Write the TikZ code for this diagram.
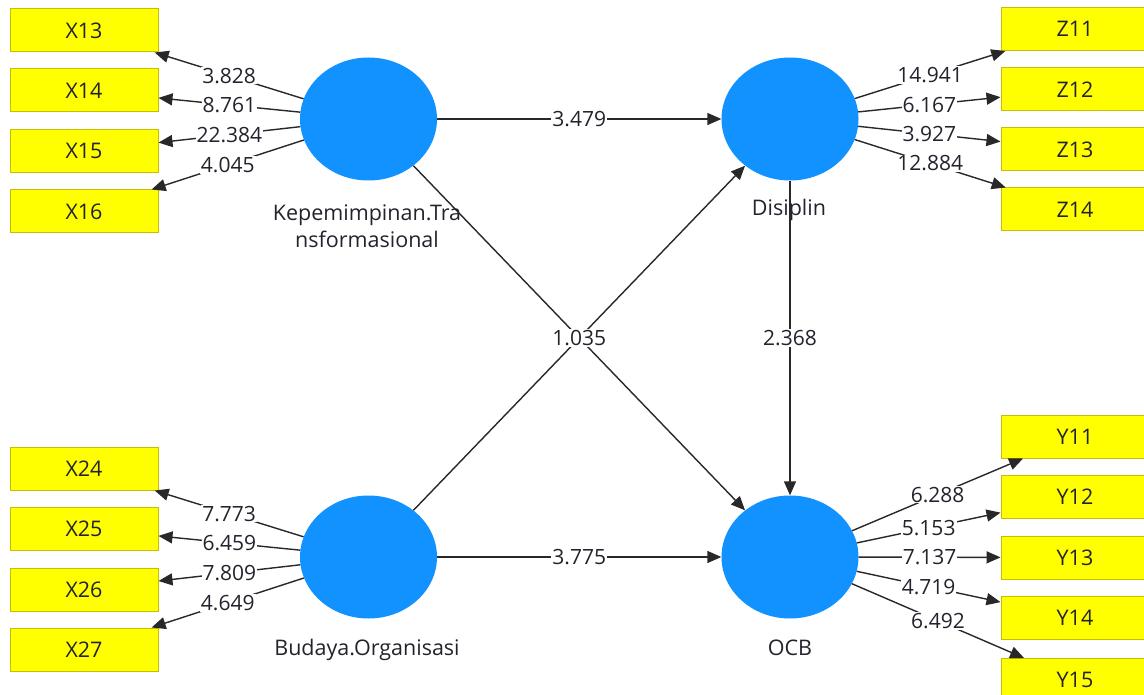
\documentclass[tikz,border=0pt]{standalone}
\usepackage{fontspec}
\setmainfont{Open Sans}
\usetikzlibrary{shapes.geometric,arrows.meta}
\definecolor{boxyellow}{RGB}{255,255,0}
\definecolor{boxborder}{RGB}{200,190,0}
\definecolor{latblue}{RGB}{17,146,255}
\definecolor{linegray}{RGB}{40,40,40}
\definecolor{txt}{RGB}{35,35,45}
\newcommand{\numfont}{\fontsize{21}{27}\selectfont}
\newcommand{\wordfont}{\fontsize{21.5}{27}\selectfont}
\begin{document}
\begin{tikzpicture}[x=1pt,y=-1pt,
  ind/.style={draw=boxborder, line width=1pt, fill=boxyellow, minimum width=148pt, minimum height=43pt, inner sep=0pt, font=\wordfont, text=txt},
  lat/.style={ellipse, fill=latblue, minimum width=137pt, minimum height=123pt, inner sep=0pt},
  conn/.style={draw=linegray, line width=1.4pt, -{Triangle[length=14pt,width=12pt]}},
  val/.style={fill=white, inner sep=1pt, font=\numfont, text=txt},
  latlab/.style={font=\wordfont, text=txt, align=center, inner sep=0pt}]
\clip (0,0) rectangle (1144,695);
\fill[white] (0,0) rectangle (1144,695);
% latent variables
\node[lat] (kep) at (368.5,119) {};
\node[lat] (dis) at (790,119) {};
\node[lat] (bud) at (368.5,557) {};
\node[lat] (ocb) at (790,557) {};
\node[latlab] (kepl) at (367,226) {Kepemimpinan.Tra\\nsformasional};
\node[latlab] (disl) at (789,210) {Disiplin};
\node[latlab] (budl) at (367,650) {Budaya.Organisasi};
\node[latlab] (ocbl) at (790,648) {OCB};
% indicators
\node[ind] (x13) at (84,30.5) {X13};
\node[ind] (x14) at (84,90.5) {X14};
\node[ind] (x15) at (84,151) {X15};
\node[ind] (x16) at (84,211.5) {X16};
\node[ind] (z11) at (1075,29) {Z11};
\node[ind] (z12) at (1075,89.5) {Z12};
\node[ind] (z13) at (1075,149.5) {Z13};
\node[ind] (z14) at (1075,209.5) {Z14};
\node[ind] (x24) at (84,468.5) {X24};
\node[ind] (x25) at (84,528.5) {X25};
\node[ind] (x26) at (84,589.5) {X26};
\node[ind] (x27) at (84,649.5) {X27};
\node[ind] (y11) at (1075,436.5) {Y11};
\node[ind] (y12) at (1075,497) {Y12};
\node[ind] (y13) at (1075,557.5) {Y13};
\node[ind] (y14) at (1075,618) {Y14};
\node[ind] (y15) at (1075,680) {Y15};
% outer loadings
\draw[conn] (kep) -- node[val] (l1) {3.828} (x13);
\draw[conn] (kep) -- node[val] (l2) {8.761} (x14);
\draw[conn] (kep) -- node[val] (l3) {22.384} (x15);
\draw[conn] (kep) -- node[val] (l4) {4.045} (x16);
\draw[conn] (dis) -- node[val] (l5) {14.941} (z11);
\draw[conn] (dis) -- node[val] (l6) {6.167} (z12);
\draw[conn] (dis) -- node[val] (l7) {3.927} (z13);
\draw[conn] (dis) -- node[val] (l8) {12.884} (z14);
\draw[conn] (bud) -- node[val] (l9) {7.773} (x24);
\draw[conn] (bud) -- node[val] (l10) {6.459} (x25);
\draw[conn] (bud) -- node[val] (l11) {7.809} (x26);
\draw[conn] (bud) -- node[val] (l12) {4.649} (x27);
\draw[conn] (ocb) -- node[val] (l13) {6.288} (y11);
\draw[conn] (ocb) -- node[val] (l14) {5.153} (y12);
\draw[conn] (ocb) -- node[val] (l15) {7.137} (y13);
\draw[conn] (ocb) -- node[val] (l16) {4.719} (y14);
\draw[conn] (ocb) -- node[val] (l17) {6.492} (y15);
% inner model
\draw[conn] (kep) -- node[val] (p1) {3.479} (dis);
\draw[conn] (kep) -- (ocb);
\draw[conn] (bud) -- node[val] (p2) {1.035} (dis);
\draw[conn] (dis) -- node[val] (p3) {2.368} (ocb);
\draw[conn] (bud) -- node[val] (p4) {3.775} (ocb);
\end{tikzpicture}
\end{document}
